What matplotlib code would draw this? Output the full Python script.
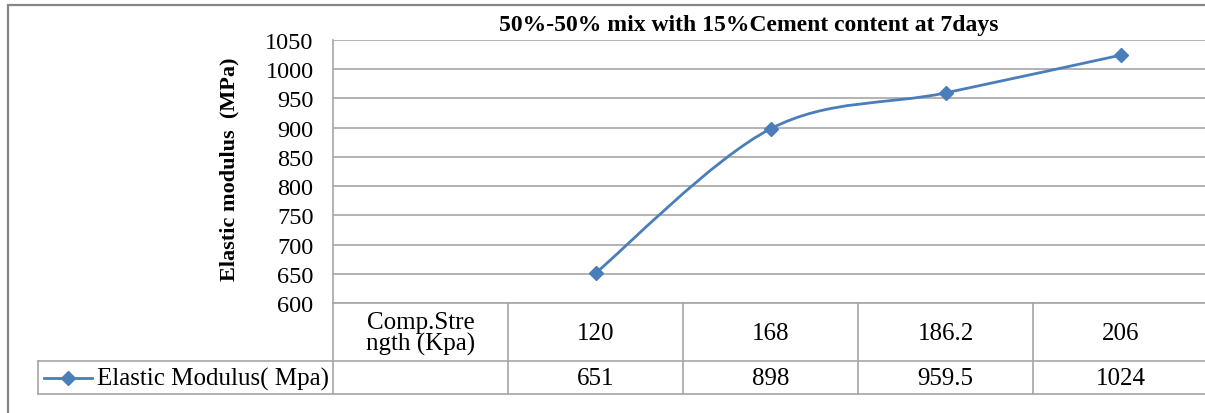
import matplotlib
matplotlib.use("Agg")
import matplotlib.pyplot as plt
from matplotlib.path import Path
from matplotlib.patches import PathPatch, Rectangle
from matplotlib.lines import Line2D
import numpy as np

FONT = 'Liberation Serif'
plt.rcParams['font.family'] = FONT

# ---- data ----
categories = ["Comp.Stre\nngth (Kpa)", "120", "168", "186.2", "206"]
series_name = "Elastic Modulus( Mpa)"
values = [None, 651, 898, 959.5, 1024]
value_labels = ["", "651", "898", "959.5", "1024"]
yticks = [600, 650, 700, 750, 800, 850, 900, 950, 1000, 1050]
title = "50%-50% mix with 15%Cement content at 7days"
ylabel = "Elastic modulus  (MPa)"

W, H = 1205, 414
fig = plt.figure(figsize=(W / 100, H / 100), dpi=100)

def fx(px):
    return px / W

def fy(py):
    return 1 - py / H

BLUE = "#4A7EBB"
GRID = "#A6A6A6"
BORDER = "#868686"

# plot area
left, right, top, bottom = 333, 1208, 41, 304
ax = fig.add_axes([fx(left), fy(bottom), fx(right) - fx(left), fy(top) - fy(bottom)])
ax.set_xlim(-0.5, len(categories) - 0.5)
ax.set_ylim(600, 1050)
ax.set_yticks(yticks)
ax.set_yticklabels([str(t) for t in yticks], fontsize=17.5, family=FONT)
ax.tick_params(axis='y', length=0, pad=14)
ax.set_xticks([])
for s in ax.spines.values():
    s.set_visible(False)
ax.yaxis.grid(True, color=GRID, linewidth=1.2)
ax.set_axisbelow(True)

# smoothed line (Catmull-Rom style Bezier, like Excel smoothing)
pts = [(i, v) for i, v in enumerate(values) if v is not None]
P = np.array(pts, dtype=float)
verts = [tuple(P[0])]
codes = [Path.MOVETO]
n = len(P)
for i in range(n - 1):
    p0 = P[i - 1] if i > 0 else P[i]
    p1 = P[i]
    p2 = P[i + 1]
    p3 = P[i + 2] if i + 2 < n else P[i + 1]
    c1 = p1 + (p2 - p0) / 6
    c2 = p2 - (p3 - p1) / 6
    verts += [tuple(c1), tuple(c2), tuple(p2)]
    codes += [Path.CURVE4] * 3
ax.add_patch(PathPatch(Path(verts, codes), facecolor='none', edgecolor=BLUE, lw=2.0, zorder=3))
ax.plot(P[:, 0], P[:, 1], linestyle='none', marker='D', markersize=7, color=BLUE, zorder=4)

# title and y label
fig.text(fx(749), fy(25), title, ha='center', va='center', fontsize=17, fontweight='bold', family=FONT)
fig.text(fx(229), fy(169), ylabel, ha='center', va='center', rotation=90, fontsize=16,
         fontweight='bold', family=FONT)

# data table
row1_bottom, row2_bottom = 362, 395
lines = []
lines.append(([left, left], [top, row2_bottom]))
lines.append(([left, W + 5], [bottom, bottom]))
lines.append(([38, W + 5], [row1_bottom, row1_bottom]))
lines.append(([38, W + 5], [row2_bottom, row2_bottom]))
lines.append(([38, 38], [row1_bottom, row2_bottom]))
for l in lines:
    fig.add_artist(Line2D([fx(x) for x in l[0]], [fy(y) for y in l[1]], color=GRID, lw=1.2))

trans = ax.transData
for i in range(len(categories) - 1):
    xb = i + 0.5
    xpix = trans.transform((xb, 600))[0]
    fig.add_artist(Line2D([xpix / W, xpix / W], [fy(bottom), fy(row2_bottom)], color=GRID, lw=1.2))

for i, (cat, vl) in enumerate(zip(categories, value_labels)):
    xpix = trans.transform((i, 600))[0]
    fig.text(xpix / W, fy((bottom + row1_bottom) / 2 + 1), cat, ha='center', va='center',
             fontsize=18, linespacing=0.95, family=FONT)
    if vl:
        fig.text(xpix / W, fy((row1_bottom + row2_bottom) / 2 + 1), vl, ha='center', va='center',
                 fontsize=18, family=FONT)

# legend key in table
ymid = fy((row1_bottom + row2_bottom) / 2)
fig.add_artist(Line2D([fx(44), fx(92)], [ymid, ymid], color=BLUE, lw=2.0))
fig.add_artist(Line2D([fx(68)], [ymid], color=BLUE, marker='D', markersize=7, linestyle='none'))
fig.text(fx(97), fy((row1_bottom + row2_bottom) / 2 + 1), series_name, ha='left', va='center',
         fontsize=18, family=FONT)

# outer chart border
fig.add_artist(Rectangle((fx(8), -0.2), 1.2, fy(6) + 0.2, fill=False, edgecolor=BORDER, lw=1.6,
                         transform=fig.transFigure))

fig.savefig("out.png", dpi=100)
